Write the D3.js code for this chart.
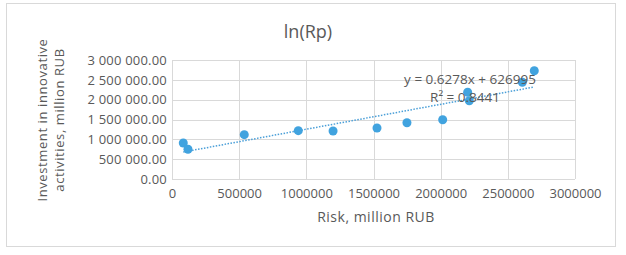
<!DOCTYPE html>
<html>
<head>
<meta charset="utf-8">
<script src="https://cdn.jsdelivr.net/npm/d3@7"></script>
<style>
  body { margin: 0; background: #fff; }
  text { font-family: "Open Sans", "Lato", sans-serif; fill: #595959; }
</style>
</head>
<body>
<div id="chart-area"></div>
<script>
// datos
var riskValues = [84000, 119000, 538000, 940000, 1199000, 1526000, 1749000, 2015000, 2201000, 2213000, 2608000, 2697000];
var investValues = [907000, 749000, 1117000, 1218000, 1210000, 1286000, 1419000, 1495000, 2186000, 1974000, 2438000, 2730000];
var xTicks = [0, 500000, 1000000, 1500000, 2000000, 2500000, 3000000];
var yTicks = [0, 500000, 1000000, 1500000, 2000000, 2500000, 3000000];
var trendSlope = 0.6278, trendIntercept = 626995;
var trendLabel = "y = 0.6278x + 626995";
var r2Label = "R² = 0.8441";

var width = 626, height = 255;
var margin = { left: 172, right: 51, top: 60, bottom: 76 };

var svg = d3.select("#chart-area")
    .append("svg")
    .attr("width", width)
    .attr("height", height);

// marco exterior
svg.append("rect")
    .attr("x", 6.5).attr("y", 3.5)
    .attr("width", 609).attr("height", 243)
    .attr("fill", "none")
    .attr("stroke", "#d9d9d9");

var x = d3.scaleLinear().domain([0, 3000000]).range([margin.left, width - margin.right]);
var y = d3.scaleLinear().domain([0, 3000000]).range([height - margin.bottom, margin.top]);

var loc = d3.formatLocale({ decimal: ".", thousands: " ", grouping: [3], currency: ["", ""] });
var yFmt = loc.format(",.2f");

// grid
svg.append("g").selectAll("line.h")
    .data(yTicks).join("line")
    .attr("x1", x(0)).attr("x2", x(3000000))
    .attr("y1", d => Math.round(y(d)) + 0.5).attr("y2", d => Math.round(y(d)) + 0.5)
    .attr("stroke", "#d9d9d9");

svg.append("g").selectAll("line.v")
    .data(xTicks).join("line")
    .attr("y1", y(0)).attr("y2", y(3000000))
    .attr("x1", d => Math.round(x(d)) + 0.5).attr("x2", d => Math.round(x(d)) + 0.5)
    .attr("stroke", "#d9d9d9");

// ejes (solo etiquetas)
var yAxis = svg.append("g")
    .attr("transform", "translate(" + x(0) + ",0)")
    .call(d3.axisLeft(y).tickValues(yTicks).tickFormat(yFmt).tickSize(0).tickPadding(5));
yAxis.select(".domain").remove();
yAxis.selectAll("text").attr("font-size", 13).attr("fill", "#595959")
    .attr("font-family", "Open Sans").attr("letter-spacing", 0.2);

var xAxis = svg.append("g")
    .attr("transform", "translate(0," + y(0) + ")")
    .call(d3.axisBottom(x).tickValues(xTicks).tickFormat(d3.format("d")).tickSize(0).tickPadding(10));
xAxis.select(".domain").remove();
xAxis.selectAll("text").attr("font-size", 13).attr("fill", "#595959")
    .attr("font-family", "Open Sans");

// linea de tendencia
var xMin = d3.min(riskValues), xMax = d3.max(riskValues);
svg.append("line")
    .attr("x1", x(xMin)).attr("y1", y(trendSlope * xMin + trendIntercept))
    .attr("x2", x(xMax)).attr("y2", y(trendSlope * xMax + trendIntercept))
    .attr("stroke", "#4a9fd8")
    .attr("stroke-width", 1.5)
    .attr("stroke-dasharray", "1.5,1.5");

// puntos
var pts = riskValues.map((d, i) => ({ x: d, y: investValues[i] }));
svg.append("g").selectAll("circle")
    .data(pts).join("circle")
    .attr("cx", d => x(d.x))
    .attr("cy", d => y(d.y))
    .attr("r", 4.5)
    .attr("fill", "#41a3df");

// etiqueta tendencia
svg.append("text")
    .attr("x", 470).attr("y", 84)
    .attr("text-anchor", "middle")
    .attr("font-size", 13.5)
    .text(trendLabel);
svg.append("text")
    .attr("x", 465).attr("y", 102)
    .attr("text-anchor", "middle")
    .attr("font-size", 13.5)
    .text(r2Label);

// titulo
svg.append("text")
    .attr("x", 308).attr("y", 38)
    .attr("text-anchor", "middle")
    .attr("font-size", 18)
    .text("ln(Rp)");

svg.append("text")
    .attr("x", 376).attr("y", 222)
    .attr("text-anchor", "middle")
    .attr("font-size", 14)
    .attr("letter-spacing", 0.5)
    .text("Risk, million RUB");

var yTitle = svg.append("text")
    .attr("transform", "translate(47,120) rotate(-90)")
    .attr("text-anchor", "middle")
    .attr("font-size", 13)
    .attr("letter-spacing", 0.6);
yTitle.append("tspan").attr("x", 0).attr("dy", 0).text("Investment in innovative");
yTitle.append("tspan").attr("x", 0).attr("dy", 17).text("activities, million RUB");
</script>
</body>
</html>
